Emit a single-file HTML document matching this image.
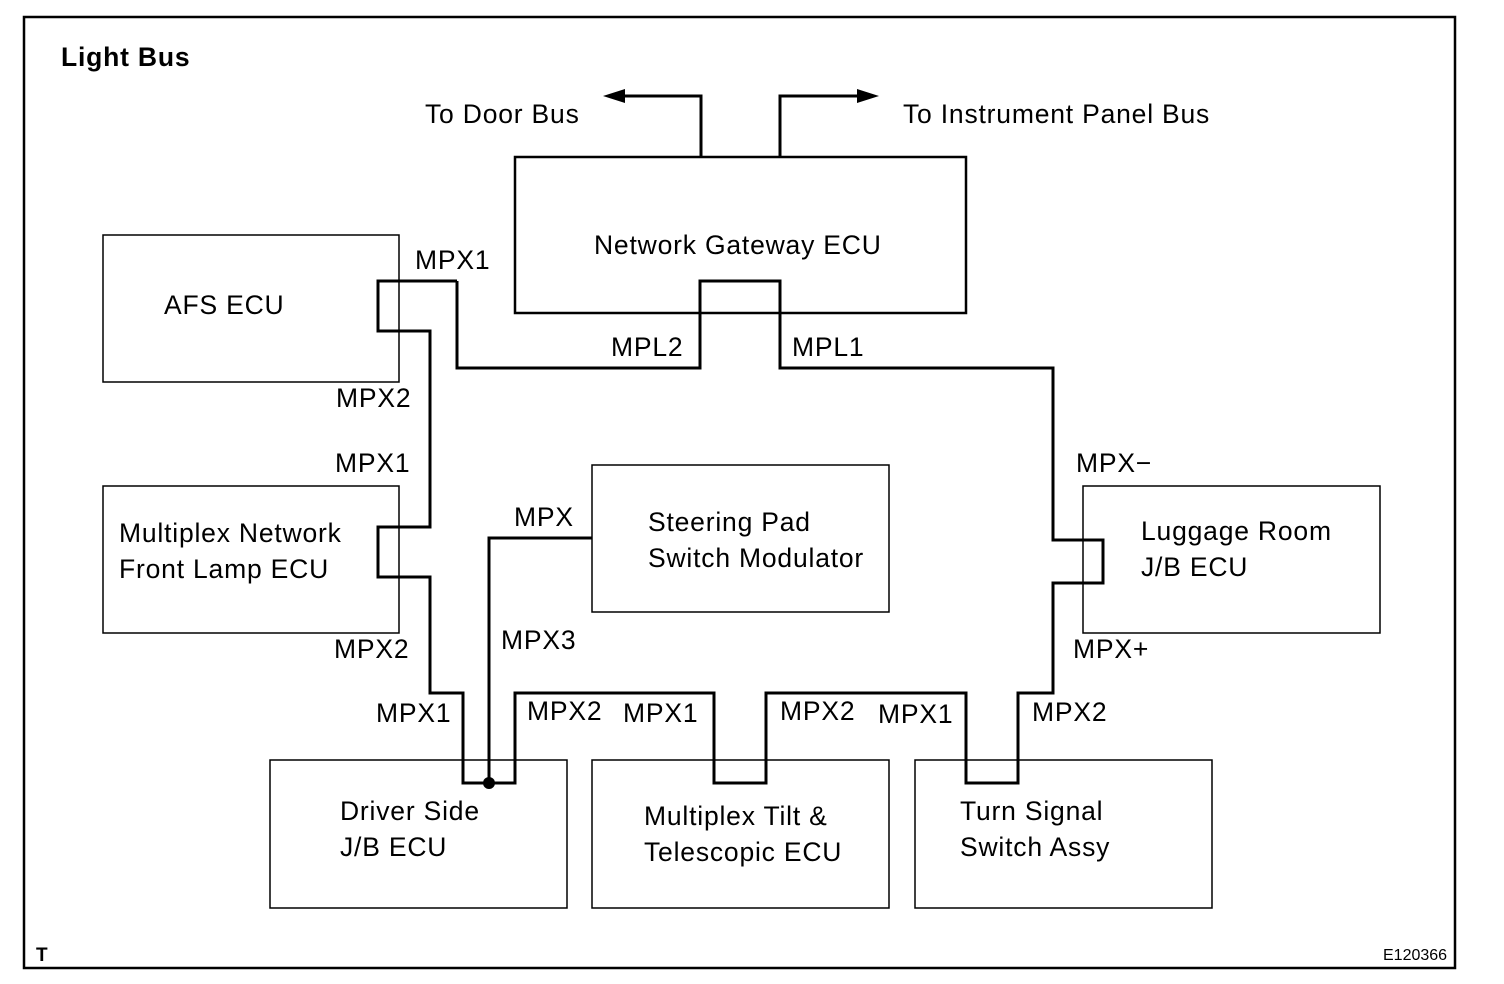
<!DOCTYPE html>
<html><head><meta charset="utf-8"><style>
html,body{margin:0;padding:0;background:#fff;}
svg{display:block;}
text{font-family:"Liberation Sans",Arial,sans-serif;font-size:26.5px;letter-spacing:0.8px;fill:#000;}
</style></head><body>
<svg width="1504" height="984" viewBox="0 0 1504 984" xmlns="http://www.w3.org/2000/svg">
<rect x="24" y="17" width="1431" height="951" fill="none" stroke="#000" stroke-width="2.5"/>
<text x="61" y="66" style="font-weight:bold">Light Bus</text>
<text x="36" y="961" style="font-weight:bold;font-size:19px;letter-spacing:0">T</text>
<text x="1383" y="960" style="font-size:16px;letter-spacing:0">E120366</text>
<g fill="none" stroke="#000" stroke-width="1.5">
<rect x="515" y="157" width="451" height="156" stroke-width="2.5"/>
<rect x="103" y="235" width="296" height="147"/>
<rect x="103" y="486" width="296" height="147"/>
<rect x="592" y="465" width="297" height="147"/>
<rect x="1083" y="486" width="297" height="147"/>
<rect x="270" y="760" width="297" height="148"/>
<rect x="592" y="760" width="297" height="148"/>
<rect x="915" y="760" width="297" height="148"/>
</g>
<g fill="none" stroke="#000" stroke-width="3" stroke-linejoin="miter">
<polyline points="701,157 701,96 620,96"/>
<polyline points="780,157 780,96 862,96"/>
<polyline points="457,281 457,368 700,368 700,281 780,281 780,368 1053,368 1053,540 1103,540 1103,583 1053,583 1053,693 1018,693 1018,783 966,783 966,693 766,693 766,783 714,783 714,693 515,693 515,783 463,783 463,693 430,693 430,577 378,577 378,527 430,527 430,331 378,331 378,281 457,281"/>
<polyline points="489,783 489,538 592,538"/>
</g>
<polygon points="603,96 625,89 625,103" fill="#000"/>
<polygon points="879,96 857,89 857,103" fill="#000"/>
<circle cx="489" cy="783" r="6" fill="#000"/>
<text x="425" y="123">To Door Bus</text>
<text x="903" y="123">To Instrument Panel Bus</text>
<text x="594" y="254">Network Gateway ECU</text>
<text x="164" y="314">AFS ECU</text>
<text x="119" y="542">Multiplex Network</text>
<text x="119" y="578">Front Lamp ECU</text>
<text x="648" y="531">Steering Pad</text>
<text x="648" y="567">Switch Modulator</text>
<text x="1141" y="540">Luggage Room</text>
<text x="1141" y="576">J/B ECU</text>
<text x="340" y="820">Driver Side</text>
<text x="340" y="856">J/B ECU</text>
<text x="644" y="825">Multiplex Tilt &amp;</text>
<text x="644" y="861">Telescopic ECU</text>
<text x="960" y="820">Turn Signal</text>
<text x="960" y="856">Switch Assy</text>
<text x="415" y="269">MPX1</text>
<text x="336" y="407">MPX2</text>
<text x="335" y="472">MPX1</text>
<text x="334" y="658">MPX2</text>
<text x="376" y="722">MPX1</text>
<text x="527" y="720">MPX2</text>
<text x="623" y="722">MPX1</text>
<text x="780" y="720">MPX2</text>
<text x="878" y="723">MPX1</text>
<text x="1032" y="721">MPX2</text>
<text x="501" y="649">MPX3</text>
<text x="514" y="526">MPX</text>
<text x="611" y="356">MPL2</text>
<text x="792" y="356">MPL1</text>
<text x="1076" y="472">MPX−</text>
<text x="1073" y="658">MPX+</text>
</svg>
</body></html>
